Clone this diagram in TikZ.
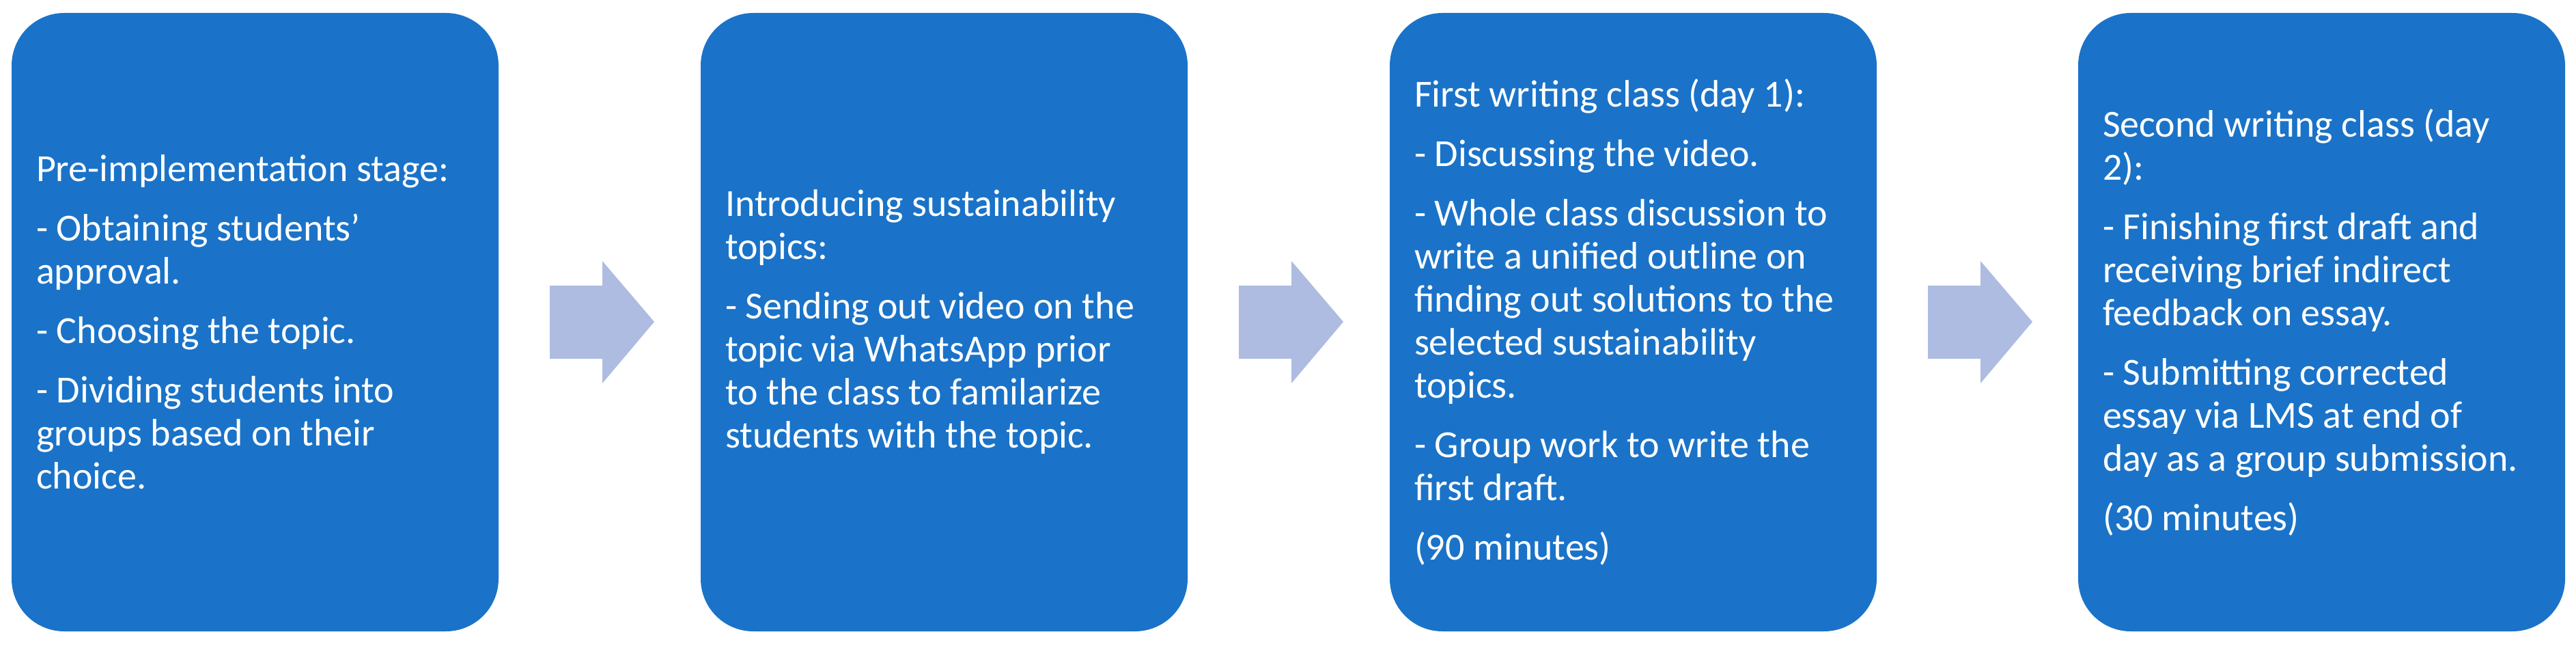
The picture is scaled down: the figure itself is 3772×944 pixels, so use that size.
\documentclass[tikz,border=0pt]{standalone}
\usepackage{fontspec}
\setmainfont{Carlito}
\definecolor{boxblue}{HTML}{1A73C8}
\definecolor{arrowblue}{HTML}{ADBCE0}
\begin{document}
\begin{tikzpicture}[x=1pt,y=-1pt,
  stage/.style={fill=boxblue,rounded corners=77pt,minimum width=713pt,minimum height=905pt,inner sep=0pt},
  txt/.style={text=white,align=left,anchor=west,inner sep=0pt,font=\fontsize{56}{63}\selectfont}]
\useasboundingbox (0,0) rectangle (3772,944);
\foreach \i/\x in {1/17,2/1026,3/2035,4/3043}{
  \node[stage] (b\i) at (\x+356.5,471.5) {};
}
\foreach \i/\x in {1/805,2/1814,3/2823}{
  \fill[arrowblue] (\x,418) -- (\x+77,418) -- (\x+77,382) -- (\x+153,471) -- (\x+77,561) -- (\x+77,525) -- (\x,525) -- cycle;
}
\node[txt] (t1) at ([xshift=36pt]b1.west) {Pre-implementation stage:\\[24pt]- Obtaining students'\\approval.\\[24pt]- Choosing the topic.\\[24pt]- Dividing students into\\groups based on their\\choice.};
\node[txt] (t2) at ([xshift=36pt]b2.west) {Introducing sustainability\\topics:\\[24pt]- Sending out video on the\\topic via WhatsApp prior\\to the class to familarize\\students with the topic.};
\node[txt] (t3) at ([xshift=36pt]b3.west) {First writing class (day 1):\\[24pt]- Discussing the video.\\[24pt]- Whole class discussion to\\write a unified outline on\\finding out solutions to the\\selected sustainability\\topics.\\[24pt]- Group work to write the\\first draft.\\[24pt](90 minutes)};
\node[txt] (t4) at ([xshift=36pt]b4.west) {Second writing class (day\\2):\\[24pt]- Finishing first draft and\\receiving brief indirect\\feedback on essay.\\[24pt]- Submitting corrected\\essay via LMS at end of\\day as a group submission.\\[24pt](30 minutes)};
\end{tikzpicture}
\end{document}
